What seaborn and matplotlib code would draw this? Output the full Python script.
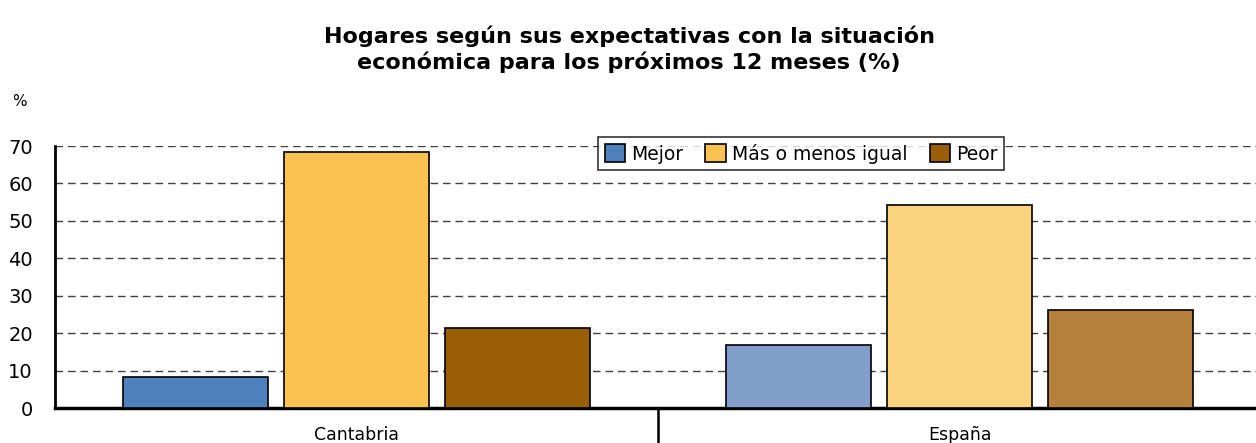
import matplotlib
matplotlib.use("Agg")
import matplotlib.pyplot as plt
import seaborn as sns
import pandas as pd
from matplotlib.patches import Patch

# Data
regions = ["Cantabria", "España"]
series = ["Mejor", "Más o menos igual", "Peor"]
cantabria_values = [8.2, 68.4, 21.5]
espana_values = [16.8, 54.2, 26.2]
y_ticks = [0, 10, 20, 30, 40, 50, 60, 70]

title = "Hogares según sus expectativas con la situación\neconómica para los próximos 12 meses (%)"

# Colours per region (Cantabria strong, España lighter)
colors = {
    "Cantabria": ["#4F81BD", "#F9C251", "#9A5F06"],
    "España": ["#829FCC", "#FAD37E", "#B5803C"],
}

df = pd.DataFrame({
    "region": [r for r in regions for _ in series],
    "serie": series * len(regions),
    "valor": cantabria_values + espana_values,
})

sns.set_theme(style="white")
plt.rcParams["font.family"] = ["DejaVu Sans"]
plt.rcParams["text.color"] = "black"

W, H = 1256, 443
fig = plt.figure(figsize=(W / 100, H / 100), dpi=100)
ax = fig.add_axes([55 / W, 35 / H, 1206 / W, 262 / H])

sns.barplot(data=df, x="region", y="valor", hue="serie", order=regions,
            hue_order=series, width=0.8, gap=0.1, ax=ax,
            edgecolor="black", linewidth=1.2, legend=False,
            palette=colors["Cantabria"], saturation=1)

# recolour bars per region
for j, container in enumerate(ax.containers):
    for i, bar in enumerate(container.patches):
        bar.set_facecolor(colors[regions[i]][j])
        bar.set_zorder(3)

ax.set_xlim(-0.5, 1.5)
ax.set_ylim(0, 70)
ax.set_yticks(y_ticks)
ax.set_yticklabels([str(v) for v in y_ticks], fontsize=14, color="black")
ax.set_xticks([0, 1])
ax.set_xticklabels(regions, fontsize=12.5, color="black")
ax.tick_params(axis="x", which="major", length=0, pad=13)
ax.tick_params(axis="y", length=0, pad=16)
ax.set_xticks([0.5], minor=True)
ax.tick_params(axis="x", which="minor", bottom=True, length=28, width=1.8,
               color="black", direction="out")
ax.set_xlabel("")
ax.set_ylabel("")

ax.yaxis.grid(True, linestyle=(0, (5.5, 3.5)), color="#404040", linewidth=1.0, zorder=0)
ax.set_axisbelow(True)
for s in ["top", "right"]:
    ax.spines[s].set_visible(False)
ax.spines["left"].set_color("black")
ax.spines["left"].set_linewidth(2)
ax.spines["bottom"].set_color("black")
ax.spines["bottom"].set_linewidth(2.5)

handles = [Patch(facecolor=c, edgecolor="black", linewidth=1.2)
           for c in colors["Cantabria"]]
leg = fig.legend(handles, series, loc="upper center",
                 bbox_to_anchor=(801 / W, 1 - 137 / H), ncol=3, fontsize=13.5,
                 frameon=True, fancybox=False, edgecolor="black",
                 handlelength=1.1, handleheight=1.1, handletextpad=0.3,
                 columnspacing=1.2, borderpad=0.35, borderaxespad=0)
leg.get_frame().set_linewidth(1.2)

fig.text(629 / W, 1 - 49 / H, title, ha="center", va="center",
         fontsize=16, fontweight="bold", linespacing=1.25, color="black")
fig.text(12 / W, 1 - 101 / H, "%", ha="left", va="center", fontsize=11,
         color="black")

fig.savefig("out.png", dpi=100)
